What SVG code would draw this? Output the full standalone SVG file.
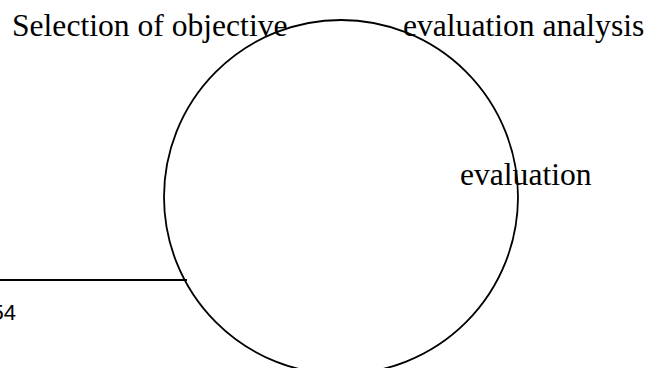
<svg xmlns="http://www.w3.org/2000/svg" width="646" height="368" viewBox="0 0 646 368">
<style>
.t{font-family:"Liberation Serif","Times New Roman",serif;font-size:31.6px;fill:#000}
.s{font-family:"Liberation Sans",Arial,sans-serif;font-size:22px;fill:#000}
.ln{fill:none;stroke:#000;stroke-width:1.8}
</style>
<rect width="646" height="368" fill="#fff"/>
<g id="labels">
<text class="t" x="12" y="36">Selection of objective</text>
<text class="t" x="403" y="36">evaluation analysis</text>
<text class="t" x="460" y="185">evaluation</text>
<text class="s" x="16" y="320" text-anchor="end">54</text>
</g>
<g id="circle">
<circle class="ln" cx="341" cy="197" r="177"/>
</g>
<g id="connectors">
<line class="ln" x1="0" y1="280" x2="187" y2="280"/>
</g>
</svg>
